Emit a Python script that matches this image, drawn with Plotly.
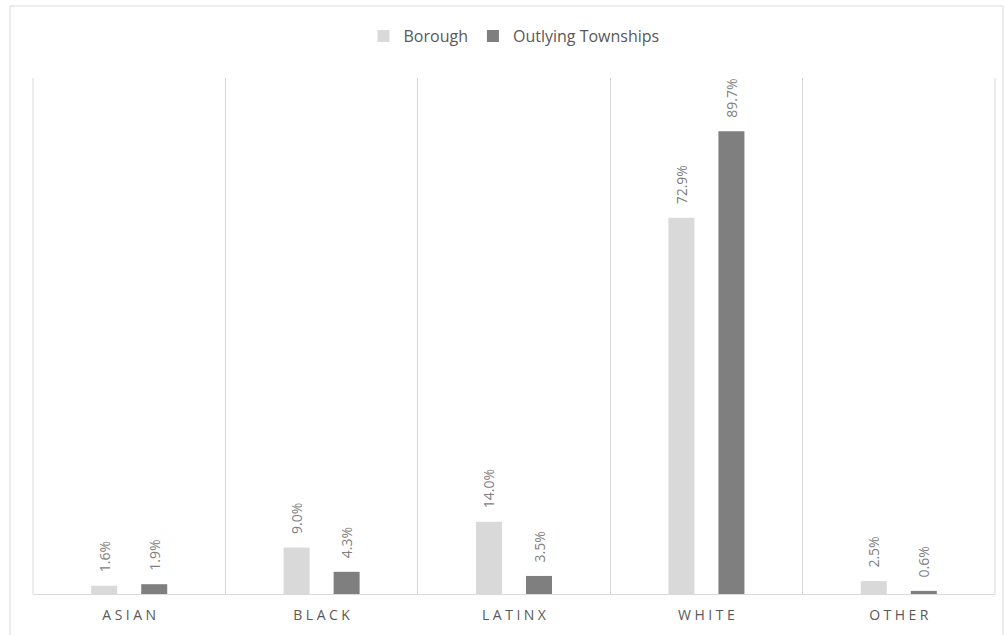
import plotly.graph_objects as go

categories = ["ASIAN", "BLACK", "LATINX", "WHITE", "OTHER"]
borough = [1.6, 9.0, 14.0, 72.9, 2.5]
outlying = [1.9, 4.3, 3.5, 89.7, 0.6]

series = [
    ("Borough", borough, "#d9d9d9"),
    ("Outlying Townships", outlying, "#7f7f7f"),
]

# letter-spaced category labels
spaced = ["\u2005".join(list(c)) for c in categories]

fig = go.Figure()
for name, vals, color in series:
    fig.add_trace(go.Bar(
        x=categories,
        y=vals,
        name=name,
        marker=dict(color=color, line=dict(width=0)),
        # leading spaces lift the rotated label a little above the bar
        text=[f"\u2002\u2005{v:.1f}%" for v in vals],
        textposition="outside",
        textangle=-90,
        constraintext="none",
        cliponaxis=False,
        textfont=dict(family="Open Sans", size=14, color="#808080"),
    ))

W, H = 1005, 635
L, R, T, B = 33, 10, 78, 41
pw = W - L - R
ph = H - T - B

# outer chart border
fig.add_shape(
    type="rect", xref="paper", yref="paper",
    x0=(10 - L) / pw, x1=(1003 - L) / pw,
    y0=-(640 - (H - B)) / ph, y1=1 + (T - 6) / ph,
    line=dict(color="#d9d9d9", width=1), fillcolor="rgba(0,0,0,0)",
    layer="below",
)
# gridlines at the outer plot edges
for xe in (0, 1):
    fig.add_shape(
        type="line", xref="paper", yref="paper",
        x0=xe, x1=xe, y0=0, y1=1,
        line=dict(color="#d9d9d9", width=1), layer="below",
    )

fig.update_layout(
    width=W, height=H,
    margin=dict(l=L, r=R, t=T, b=B),
    paper_bgcolor="white",
    plot_bgcolor="white",
    barmode="group",
    bargap=0.48,
    bargroupgap=0.48,
    font=dict(family="Open Sans", color="#595959"),
    legend=dict(
        orientation="h", x=0.5, xanchor="center", y=1 + (T - 36) / ph, yanchor="middle",
        font=dict(size=16, color="#595959"),
        itemwidth=30, traceorder="normal",
    ),
    xaxis=dict(
        tickmode="array", tickvals=categories, ticktext=spaced,
        tickson="boundaries",
        showgrid=True, gridcolor="#d9d9d9", gridwidth=1,
        showline=True, linecolor="#d9d9d9", linewidth=1,
        ticks="", ticklen=0,
        ticklabelstandoff=8,
        tickfont=dict(family="Open Sans", size=14, color="#595959"),
        range=[-0.5, 4.5],
        mirror=False,
    ),
    yaxis=dict(
        range=[0, 100],
        showgrid=False, showticklabels=False, zeroline=False,
        showline=False, ticks="",
    ),
)

fig.write_html("out.html")
